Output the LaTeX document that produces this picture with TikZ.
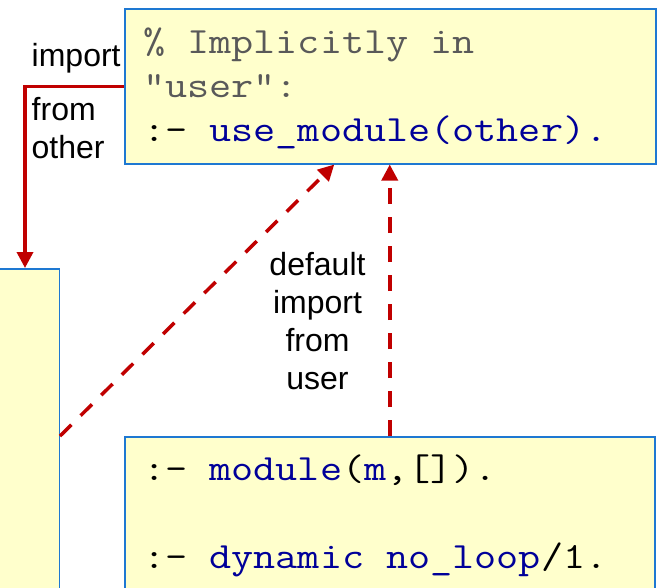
\documentclass[tikz,border=0pt]{standalone}
\usepackage{fontspec}
\usepackage{graphicx}
\setmainfont{Liberation Sans}
\usetikzlibrary{arrows.meta}
\definecolor{boxfill}{HTML}{FFFFCC}
\definecolor{boxline}{HTML}{1E78D2}
\definecolor{linkred}{HTML}{C00000}
\definecolor{commentgray}{HTML}{595959}
\definecolor{kw}{HTML}{000099}
% code lines: a light slab-serif mono, widened to a wider pitch
\newcommand{\codeline}[1]{\scalebox{1.16}[1]{#1}}
\begin{document}
\begin{tikzpicture}[x=1pt,y=-1pt,
  codebox/.style={rectangle, draw=boxline, fill=boxfill, line width=1.5pt, inner sep=0pt},
  codetext/.style={anchor=base west, inner sep=0pt, font=\ttfamily\fontsize{37}{44}\selectfont},
  labeltext/.style={inner sep=0pt, font=\fontsize{32}{38}\selectfont},
  link/.style={draw=linkred, line width=3.5pt, -{Triangle[length=16pt,width=16pt]}},
  dashlink/.style={link, dash pattern=on 16pt off 13pt}]
\clip (0,0) rectangle (658,587);

% module boxes
\node[codebox, anchor=north west, minimum width=531pt, minimum height=155pt] (user) at (124,8) {};
\node[codebox, anchor=north east, minimum width=120pt, minimum height=400pt] (other) at (60,268) {};
\node[codebox, anchor=north west, minimum width=530pt, minimum height=200pt] (m) at (124,436) {};

% code in the "user" box
\node[codetext, text=commentgray] (u1) at (143,53) {\codeline{\%~Implicitly~in}};
\node[codetext, text=commentgray] (u2) at (143,97) {\codeline{"user":}};
\node[codetext] (u3) at (143,141) {\codeline{:-~\textcolor{kw}{use\_module(other).}}};

% code in module m
\node[codetext] (m1) at (143,480) {\codeline{:-~\textcolor{kw}{module}(\textcolor{kw}{m},[]).}};
\node[codetext] (m2) at (143,568) {\codeline{:-~\textcolor{kw}{dynamic~no\_loop}/1.}};

% import from other
\coordinate (bend) at (25,0);
\draw[link] (user.west) -| (bend |- other.north);
\node[labeltext, anchor=base west] (imp) at (31.5,66) {import};
\node[labeltext, anchor=south west, text depth=0pt, align=left] (fromother) at (31.5,159) {from\\other};

% default imports from user
\draw[dashlink] (other.north east |- m.north) -- ([xshift=-56pt]user.south);
\draw[dashlink] (m.north) -- (m.north |- user.south);
\node[labeltext, anchor=south, text depth=0pt, align=center] (deflabel) at (317.5,390) {default\\import\\from\\user};
\end{tikzpicture}
\end{document}
